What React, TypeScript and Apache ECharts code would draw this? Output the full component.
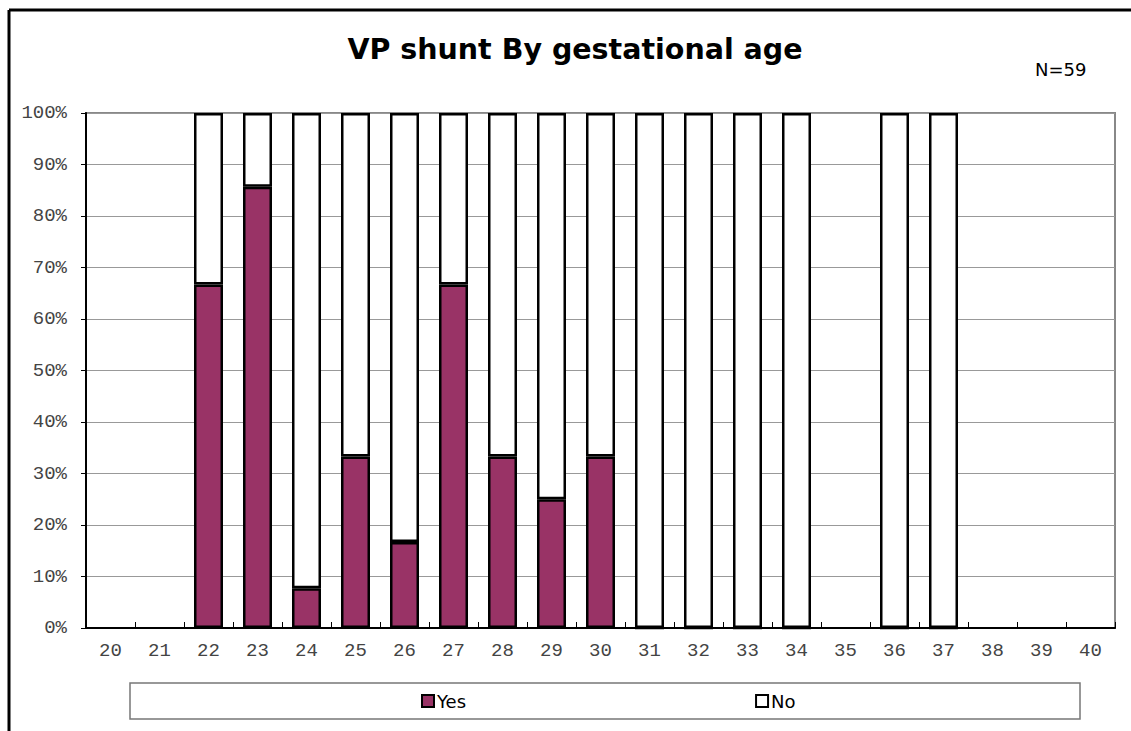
import React, { useEffect, useRef } from "react";
import * as echarts from "echarts";

const categories = ["20","21","22","23","24","25","26","27","28","29","30","31","32","33","34","35","36","37","38","39","40"];
const yesValues: (number | null)[] = [null, null, 66.7, 85.7, 7.7, 33.3, 16.7, 66.7, 33.3, 25, 33.3, 0, 0, 0, 0, null, 0, 0, null, null, null];
const noValues: (number | null)[] = [null, null, 33.3, 14.3, 92.3, 66.7, 83.3, 33.3, 66.7, 75, 66.7, 100, 100, 100, 100, null, 100, 100, null, null, null];
const titleText = "VP shunt By gestational age";
const noteText = "N=59";

export default function App() {
  const ref = useRef<HTMLDivElement>(null);
  useEffect(() => {
    if (!ref.current) return;
    const chart = echarts.init(ref.current, null, { renderer: "svg" });
    const mono = "'Liberation Mono', 'Courier New', monospace";
    const sans = "'DejaVu Sans', Verdana, sans-serif";
    chart.setOption({
      animation: false,
      backgroundColor: "#fff",
      title: {
        text: titleText,
        left: 575,
        textAlign: "center",
        top: 35,
        padding: 0,
        textStyle: { fontFamily: sans, fontWeight: "bold", fontSize: 28.5, color: "#000" },
      },
      graphic: [
        { type: "line", shape: { x1: 9, y1: 10, x2: 1140, y2: 10 }, style: { stroke: "#000", lineWidth: 3 } },
        { type: "line", shape: { x1: 9, y1: 10, x2: 9, y2: 740 }, style: { stroke: "#000", lineWidth: 3 } },
        { type: "rect", shape: { x: 130, y: 683, width: 950, height: 36 }, style: { fill: "none", stroke: "#777", lineWidth: 1.5 }, z: 0 },
        { type: "text", x: 1035, y: 60, style: { text: noteText, font: `18px ${sans}`, fill: "#000" } },
      ],
      legend: {
        left: 421,
        top: 692,
        padding: 0,
        itemWidth: 12,
        itemHeight: 12,
        itemGap: 289,
        icon: "rect",
        textStyle: { fontFamily: sans, fontSize: 18, color: "#000", padding: [0, 0, 0, -2] },
        data: [
          { name: "Yes", itemStyle: { color: "#993366", borderColor: "#000", borderWidth: 2 } },
          { name: "No", itemStyle: { color: "#fff", borderColor: "#000", borderWidth: 2 } },
        ],
      },
      grid: {
        left: 86,
        right: 16,
        top: 113,
        bottom: 103,
        show: true,
        borderColor: "#888",
        borderWidth: 2,
        backgroundColor: "#fff",
      },
      xAxis: {
        type: "category",
        data: categories,
        boundaryGap: true,
        axisLine: { lineStyle: { color: "#000", width: 2 } },
        axisTick: { show: true, inside: true, length: 6, lineStyle: { color: "#000", width: 1 } },
        axisLabel: { fontFamily: mono, fontSize: 19, color: "#444", margin: 13 },
        splitLine: { show: false },
      },
      yAxis: {
        type: "value",
        min: 0,
        max: 100,
        interval: 10,
        axisLine: { show: true, lineStyle: { color: "#000", width: 2 } },
        axisTick: { show: true, inside: false, length: 5, lineStyle: { color: "#000", width: 1 } },
        axisLabel: { formatter: "{value}%", fontFamily: mono, fontSize: 19, color: "#444", margin: 19 },
        splitLine: { show: true, lineStyle: { color: "#999", width: 1 } },
      },
      series: [
        {
          name: "Yes",
          type: "bar",
          stack: "total",
          barWidth: 29,
          data: yesValues,
          itemStyle: { color: "#993366", borderColor: "#000", borderWidth: 2.5 },
        },
        {
          name: "No",
          type: "bar",
          stack: "total",
          barWidth: 29,
          data: noValues,
          itemStyle: { color: "#fff", borderColor: "#000", borderWidth: 2.5 },
        },
      ],
    });
    return () => chart.dispose();
  }, []);
  return <div ref={ref} style={{ position: "fixed", left: 0, top: 0, width: 1131, height: 731 }} />;
}
